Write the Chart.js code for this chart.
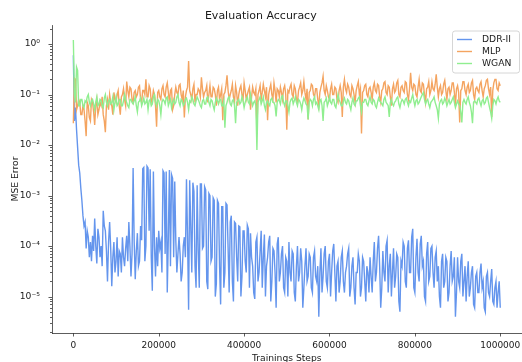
<!DOCTYPE html>
<html>
<head>
<meta charset="utf-8">
<script src="https://cdn.jsdelivr.net/npm/chart.js@4.4.0/dist/chart.umd.min.js"></script>
<style>
html,body{margin:0;padding:0;background:#fff;}
canvas{display:block;}
</style>
</head>
<body>
<canvas id="c" width="522" height="362"></canvas>
<script>
// ---------------- data ----------------
const STEP_SIZE = 2500; // training steps between evaluations
const seriesNames = ['DDR-II', 'MLP', 'WGAN'];

const ddr2 = [
  0.6, 0.03, 0.055, 0.02, 0.009, 0.004, 0.0028, 0.0014, 8e-4, 4e-4, 2.5e-4, 3e-4, 9e-5, 2e-4, 1.5e-4, 6e-5, 1.2e-4, 5e-5, 1.6e-4, 8e-5,
  3.5e-4, 1e-4, 4.5e-5, 2.2e-4, 1.5e-4, 6e-5, 1e-4, 4e-5, 5e-4, 2.5e-4, 2e-4, 8e-5, 2e-5, 1.2e-4, 3e-4, 9e-5, 1.6e-5, 6e-5, 1.2e-4, 3e-5,
  5e-5, 1.5e-4, 2.5e-5, 8e-5, 7e-5, 3e-5, 1.5e-4, 6e-5, 4e-5, 9e-5, 1.6e-4, 5e-5, 3e-4, 1e-4, 2.5e-5, 7e-5, 3.5e-3, 1.2e-4, 2.2e-5, 8e-5,
  1.8e-4, 4e-5, 5e-5, 2.5e-4, 1.3e-4, 3.4e-3, 3.6e-3, 5e-5, 1e-4, 3.8e-3, 3.5e-3, 2e-4, 3.3e-3, 6e-5, 1.3e-5, 3e-3, 1e-4, 2.5e-5, 1.5e-4, 4e-5,
  2e-4, 9e-5, 1.2e-4, 3e-5, 3.1e-3, 2.8e-3, 7e-5, 3e-3, 1.2e-5, 1.5e-4, 3.2e-3, 4e-5, 2.6e-3, 2.2e-3, 6e-5, 1.9e-3, 1.3e-4, 3e-5, 7e-5, 1.5e-4,
  7e-5, 2e-5, 3e-5, 1e-4, 1.5e-4, 6e-5, 2.1e-3, 1.5e-4, 5.5e-6, 2e-3, 2.5e-4, 3e-5, 1.8e-3, 1.2e-3, 4e-5, 1.5e-5, 1.6e-3, 8e-5, 1.5e-5, 1.7e-3,
  1.7e-3, 9e-5, 1e-4, 1.5e-3, 1.3e-3, 2e-5, 1.4e-5, 1.1e-3, 1e-3, 5e-5, 6e-5, 9e-4, 8e-4, 1e-5, 1.8e-5, 8e-4, 7e-4, 4e-5, 7e-6, 6e-4,
  6e-4, 1.5e-5, 3e-5, 7e-4, 6.5e-4, 9e-5, 1.2e-5, 3e-4, 4e-4, 2e-5, 8e-6, 3e-4, 2.8e-4, 6e-5, 2e-5, 2.5e-4, 2.4e-4, 1e-5, 2.5e-5, 2e-4,
  2e-4, 5e-5, 3e-5, 2.6e-4, 2.2e-4, 1.5e-5, 1.8e-4, 6e-5, 4e-5, 1.2e-5, 9e-6, 1.2e-4, 1.5e-4, 2e-5, 3e-5, 8e-5, 2e-4, 1.5e-5, 6e-5, 1.7e-4,
  1e-5, 4e-5, 6e-5, 1.2e-4, 1.6e-4, 8e-6, 2e-5, 9e-5, 8e-5, 3e-5, 6e-6, 1.1e-4, 1.5e-4, 2e-5, 3e-5, 7e-5, 1e-4, 1.5e-5, 1.2e-5, 6e-5,
  5e-5, 1e-5, 1.2e-4, 3e-5, 2e-5, 8e-5, 7e-5, 1.2e-5, 8e-6, 4e-5, 1e-4, 2e-5, 3e-5, 9e-5, 5e-5, 6e-6, 1.5e-5, 4e-5, 9e-5, 2e-5,
  2.5e-5, 7e-5, 6e-5, 1.5e-5, 1.2e-5, 6e-5, 8e-5, 2.5e-5, 2e-5, 4e-5, 4e-6, 3e-5, 9e-5, 1.2e-5, 2.5e-5, 7e-5, 1e-4, 2e-5, 1.5e-5, 5e-5,
  7e-5, 1e-5, 3e-5, 8e-5, 1.1e-4, 3e-5, 8e-6, 4e-5, 5e-5, 1.2e-5, 2e-5, 6e-5, 8e-5, 2e-5, 1.2e-5, 3e-5, 4e-5, 7e-5, 9e-5, 1e-5,
  1.5e-5, 4e-5, 6e-5, 1.5e-5, 7e-6, 3e-5, 3e-5, 7e-5, 5e-5, 1e-5, 1.5e-5, 6e-5, 5e-5, 2e-5, 8e-6, 4e-5, 3e-5, 1.2e-5, 6e-5, 2.5e-5,
  1.2e-5, 5e-5, 1.2e-4, 2e-5, 3e-5, 9e-5, 1.6e-4, 4e-5, 6e-6, 1.5e-5, 8e-5, 3e-5, 2e-5, 1e-4, 1.3e-4, 1.2e-5, 4e-5, 7e-5, 1e-5, 3e-5,
  9e-5, 1.5e-5, 2.5e-5, 7e-5, 6e-5, 8e-6, 5e-6, 5e-5, 4e-5, 1.2e-4, 1e-4, 2e-5, 1.5e-5, 9e-5, 1.3e-4, 3e-5, 3e-5, 1.5e-4, 2.2e-4, 1.5e-5,
  1.2e-5, 6e-5, 1.4e-4, 3e-5, 2e-5, 1.1e-4, 1.6e-4, 4e-5, 5e-5, 1e-5, 8e-6, 7e-5, 1.2e-4, 2e-5, 2.5e-5, 9e-5, 1e-4, 3e-5, 1.5e-5, 6e-5,
  8e-5, 2e-5, 4e-5, 1e-5, 6e-6, 5e-5, 7e-5, 1.5e-5, 2e-5, 6e-5, 5e-5, 8e-6, 1.2e-5, 4e-5, 8e-5, 2e-5, 2.5e-5, 6e-5, 4e-6, 1.2e-5,
  6e-5, 2e-5, 1.5e-5, 5e-5, 7e-5, 1e-5, 2e-5, 4e-5, 8e-6, 2.5e-5, 5e-5, 1e-5, 1.5e-5, 3e-5, 4e-5, 7e-6, 6e-6, 2.5e-5, 3e-5, 1.2e-5,
  1.2e-5, 3e-5, 4.5e-5, 1.5e-5, 2e-5, 6e-6, 5e-6, 2.5e-5, 3e-5, 1.2e-5, 1e-5, 2e-5, 3.5e-5, 8e-6, 7e-6, 1.5e-5, 2e-5, 6e-6, 1.2e-5, 2e-5,
  6e-6
];

const mlp = [
  0.027, 0.21, 0.2, 0.05, 0.06, 0.08, 0.07, 0.04, 0.04, 0.06, 0.05, 0.03, 0.015, 0.07, 0.06, 0.035, 0.03, 0.08, 0.07, 0.045,
  0.025, 0.06, 0.08, 0.04, 0.05, 0.07, 0.06, 0.09, 0.04, 0.03, 0.018, 0.06, 0.08, 0.05, 0.1, 0.07, 0.06, 0.04, 0.11, 0.08,
  0.07, 0.1, 0.12, 0.06, 0.04, 0.09, 0.1, 0.13, 0.08, 0.06, 0.18, 0.12, 0.09, 0.14, 0.13, 0.08, 0.07, 0.11, 0.12, 0.09,
  0.1, 0.14, 0.15, 0.08, 0.07, 0.12, 0.12, 0.1, 0.2, 0.09, 0.09, 0.15, 0.13, 0.07, 0.08, 0.12, 0.1, 0.06, 0.023, 0.11,
  0.12, 0.09, 0.08, 0.13, 0.15, 0.1, 0.09, 0.14, 0.17, 0.11, 0.07, 0.12, 0.13, 0.05, 0.06, 0.1, 0.14, 0.11, 0.1, 0.15,
  0.16, 0.1, 0.08, 0.12, 0.035, 0.09, 0.12, 0.14, 0.46, 0.12, 0.1, 0.08, 0.13, 0.16, 0.07, 0.1, 0.1, 0.13, 0.12, 0.09,
  0.22, 0.13, 0.09, 0.11, 0.12, 0.15, 0.07, 0.1, 0.15, 0.09, 0.09, 0.14, 0.13, 0.1, 0.06, 0.12, 0.14, 0.08, 0.1, 0.13,
  0.031, 0.1, 0.11, 0.15, 0.24, 0.12, 0.08, 0.1, 0.12, 0.16, 0.09, 0.07, 0.15, 0.11, 0.06, 0.1, 0.13, 0.15, 0.1, 0.08,
  0.17, 0.12, 0.08, 0.1, 0.12, 0.14, 0.05, 0.09, 0.14, 0.11, 0.1, 0.13, 0.021, 0.1, 0.12, 0.15, 0.08, 0.11, 0.16, 0.12,
  0.09, 0.14, 0.031, 0.1, 0.13, 0.16, 0.1, 0.08, 0.17, 0.12, 0.07, 0.13, 0.12, 0.09, 0.14, 0.11, 0.08, 0.13, 0.15, 0.1,
  0.02, 0.12, 0.11, 0.14, 0.16, 0.1, 0.09, 0.15, 0.13, 0.08, 0.07, 0.12, 0.14, 0.17, 0.1, 0.12, 0.18, 0.11, 0.08, 0.13,
  0.032, 0.11, 0.12, 0.16, 0.15, 0.1, 0.09, 0.13, 0.13, 0.08, 0.06, 0.11, 0.14, 0.17, 0.23, 0.12, 0.1, 0.15, 0.12, 0.09,
  0.08, 0.13, 0.16, 0.1, 0.1, 0.14, 0.13, 0.08, 0.07, 0.12, 0.15, 0.11, 0.036, 0.14, 0.2, 0.13, 0.11, 0.16, 0.14, 0.1,
  0.09, 0.15, 0.13, 0.1, 0.07, 0.12, 0.15, 0.18, 0.1, 0.13, 0.017, 0.11, 0.12, 0.15, 0.16, 0.1, 0.09, 0.13, 0.14, 0.11,
  0.08, 0.14, 0.17, 0.12, 0.11, 0.16, 0.15, 0.09, 0.07, 0.12, 0.13, 0.17, 0.18, 0.11, 0.1, 0.15, 0.14, 0.09, 0.06, 0.13,
  0.16, 0.11, 0.12, 0.17, 0.19, 0.1, 0.09, 0.14, 0.15, 0.12, 0.11, 0.18, 0.17, 0.1, 0.08, 0.13, 0.27, 0.14, 0.12, 0.16,
  0.15, 0.1, 0.09, 0.14, 0.2, 0.12, 0.11, 0.17, 0.16, 0.1, 0.07, 0.13, 0.14, 0.18, 0.1, 0.12, 0.18, 0.13, 0.12, 0.16,
  0.25, 0.14, 0.09, 0.13, 0.15, 0.1, 0.11, 0.16, 0.19, 0.12, 0.08, 0.13, 0.14, 0.1, 0.12, 0.17, 0.17, 0.11, 0.06, 0.13,
  0.15, 0.11, 0.028, 0.12, 0.13, 0.18, 0.18, 0.12, 0.1, 0.14, 0.16, 0.11, 0.12, 0.17, 0.19, 0.1, 0.08, 0.13, 0.14, 0.12,
  0.11, 0.16, 0.18, 0.12, 0.09, 0.13, 0.15, 0.19, 0.2, 0.13, 0.1, 0.14, 0.036, 0.12, 0.17, 0.2, 0.2, 0.13, 0.12, 0.17,
  0.15
];

const wgan = [
  1.2, 0.1, 0.07, 0.35, 0.3, 0.06, 0.06, 0.08, 0.08, 0.06, 0.055, 0.075, 0.07, 0.09, 0.1, 0.07, 0.06, 0.075, 0.08, 0.065,
  0.05, 0.07, 0.09, 0.06, 0.065, 0.08, 0.075, 0.06, 0.055, 0.085, 0.1, 0.07, 0.06, 0.075, 0.08, 0.065, 0.07, 0.09, 0.05, 0.07,
  0.09, 0.06, 0.065, 0.08, 0.08, 0.06, 0.06, 0.075, 0.1, 0.08, 0.07, 0.06, 0.055, 0.08, 0.08, 0.07, 0.065, 0.075, 0.09, 0.06,
  0.045, 0.07, 0.075, 0.085, 0.06, 0.07, 0.085, 0.065, 0.07, 0.08, 0.05, 0.075, 0.08, 0.06, 0.065, 0.09, 0.1, 0.07, 0.06, 0.08,
  0.075, 0.06, 0.04, 0.07, 0.08, 0.075, 0.065, 0.085, 0.09, 0.06, 0.07, 0.08, 0.055, 0.07, 0.08, 0.065, 0.07, 0.09, 0.1, 0.07,
  0.06, 0.08, 0.075, 0.06, 0.065, 0.08, 0.085, 0.07, 0.05, 0.075, 0.07, 0.09, 0.08, 0.065, 0.06, 0.075, 0.09, 0.08, 0.07, 0.06,
  0.055, 0.075, 0.08, 0.065, 0.065, 0.085, 0.09, 0.07, 0.06, 0.08, 0.075, 0.06, 0.05, 0.07, 0.085, 0.075, 0.065, 0.08, 0.08, 0.06,
  0.06, 0.075, 0.022, 0.06, 0.07, 0.085, 0.09, 0.065, 0.06, 0.075, 0.08, 0.06, 0.027, 0.07, 0.075, 0.08, 0.065, 0.07, 0.09, 0.075,
  0.055, 0.07, 0.08, 0.09, 0.07, 0.065, 0.1, 0.075, 0.06, 0.07, 0.075, 0.06, 0.008, 0.07, 0.08, 0.09, 0.065, 0.075, 0.09, 0.06,
  0.05, 0.07, 0.075, 0.065, 0.06, 0.08, 0.085, 0.07, 0.07, 0.06, 0.037, 0.07, 0.08, 0.075, 0.065, 0.09, 0.095, 0.07, 0.06, 0.075,
  0.075, 0.06, 0.045, 0.07, 0.08, 0.085, 0.065, 0.075, 0.09, 0.07, 0.06, 0.08, 0.075, 0.065, 0.05, 0.07, 0.085, 0.075, 0.065, 0.06,
  0.032, 0.07, 0.08, 0.075, 0.06, 0.08, 0.09, 0.065, 0.07, 0.06, 0.05, 0.075, 0.08, 0.06, 0.03, 0.07, 0.075, 0.085, 0.06, 0.07,
  0.09, 0.07, 0.065, 0.08, 0.08, 0.06, 0.055, 0.075, 0.1, 0.08, 0.07, 0.06, 0.06, 0.075, 0.085, 0.07, 0.065, 0.08, 0.075, 0.06,
  0.05, 0.07, 0.085, 0.065, 0.06, 0.075, 0.075, 0.085, 0.09, 0.06, 0.045, 0.07, 0.07, 0.08, 0.08, 0.065, 0.06, 0.075, 0.09, 0.07,
  0.065, 0.08, 0.075, 0.06, 0.055, 0.07, 0.085, 0.075, 0.07, 0.065, 0.06, 0.08, 0.09, 0.07, 0.065, 0.06, 0.036, 0.07, 0.08, 0.065,
  0.06, 0.07, 0.075, 0.085, 0.09, 0.065, 0.055, 0.07, 0.08, 0.075, 0.065, 0.08, 0.085, 0.07, 0.06, 0.075, 0.07, 0.085, 0.1, 0.075,
  0.06, 0.075, 0.08, 0.065, 0.07, 0.08, 0.09, 0.1, 0.11, 0.08, 0.065, 0.075, 0.08, 0.065, 0.055, 0.07, 0.075, 0.08, 0.09, 0.07,
  0.06, 0.05, 0.034, 0.065, 0.075, 0.08, 0.065, 0.07, 0.085, 0.075, 0.06, 0.07, 0.08, 0.065, 0.07, 0.08, 0.09, 0.07, 0.055, 0.065,
  0.075, 0.065, 0.06, 0.045, 0.028, 0.07, 0.08, 0.07, 0.065, 0.08, 0.09, 0.07, 0.06, 0.045, 0.027, 0.07, 0.075, 0.07, 0.065, 0.08,
  0.085, 0.07, 0.06, 0.075, 0.08, 0.065, 0.07, 0.085, 0.09, 0.07, 0.055, 0.045, 0.034, 0.06, 0.08, 0.075, 0.065, 0.08, 0.09, 0.075,
  0.07
];

const xTickValues = [0, 200000, 400000, 600000, 800000, 1000000];
const xTickLabels = ['0', '200000', '400000', '600000', '800000', '1000000'];
const yTickValues = [1e-5, 1e-4, 1e-3, 1e-2, 1e-1, 1];
const yTickLabels = ['10⁻⁵', '10⁻⁴', '10⁻³', '10⁻²', '10⁻¹', '10⁰'];

// ---------------- presentation ----------------
const X_MIN = -50000, X_MAX = 1050000;
const Y_MIN = 1.9e-6, Y_MAX = 2.38;
const FONT = "'DejaVu Sans', sans-serif";
const TXT = '#1a1a1a';
const AX = '#333333';
const COLORS = ['#6495ED', '#F4A460', '#90EE90'];

function toPoints(arr) { return arr.map((v, i) => ({ x: i * STEP_SIZE, y: v })); }

const yAllTicks = [];
for (let e = -6; e <= 0; e++) {
  for (let m = 1; m <= 9; m++) {
    const v = m * Math.pow(10, e);
    if (v >= Y_MIN && v <= Y_MAX) yAllTicks.push(v);
  }
}
function isMajor(v) { return yTickValues.some(t => Math.abs(t - v) / t < 1e-9); }
function zeroPad(s) { s.paddingLeft = 0; s.paddingRight = 0; s.paddingTop = 0; s.paddingBottom = 0; }

const mplPlugin = {
  id: 'mplDecor',
  afterDraw(chart) {
    const ctx = chart.ctx, a = chart.chartArea;
    const xs = chart.scales.x, ys = chart.scales.y;
    ctx.save();
    ctx.strokeStyle = AX;
    ctx.lineWidth = 0.8;
    yAllTicks.forEach(v => {
      const len = isMajor(v) ? 3.5 : 2;
      const py = Math.round(ys.getPixelForValue(v)) + 0.5;
      ctx.beginPath(); ctx.moveTo(a.left - len, py); ctx.lineTo(a.left, py); ctx.stroke();
    });
    xTickValues.forEach(v => {
      const px = Math.round(xs.getPixelForValue(v)) + 0.5;
      ctx.beginPath(); ctx.moveTo(px, a.bottom); ctx.lineTo(px, a.bottom + 3.5); ctx.stroke();
    });
    // legend box (upper right)
    const bx = 452.5, by = 31, bw = 67, bh = 42;
    ctx.beginPath();
    ctx.roundRect(bx, by, bw, bh, 2.5);
    ctx.fillStyle = 'rgba(255,255,255,0.8)';
    ctx.fill();
    ctx.strokeStyle = '#cccccc';
    ctx.lineWidth = 0.8;
    ctx.stroke();
    ctx.font = '9.2px ' + FONT;
    ctx.textBaseline = 'middle';
    ctx.textAlign = 'left';
    chart.data.datasets.forEach((ds, i) => {
      const ly = 39.5 + i * 12;
      ctx.strokeStyle = ds.borderColor;
      ctx.lineWidth = 1.4;
      ctx.beginPath(); ctx.moveTo(457, ly); ctx.lineTo(472, ly); ctx.stroke();
      ctx.fillStyle = TXT;
      ctx.fillText(ds.label, 482, ly);
    });
    ctx.restore();
  }
};

const datasets = [ddr2, mlp, wgan].map((arr, i) => ({
  label: seriesNames[i],
  data: toPoints(arr),
  borderColor: COLORS[i],
  backgroundColor: COLORS[i],
  borderWidth: 1.4,
  pointRadius: 0,
  tension: 0,
  fill: false,
  order: 3 - i
}));

new Chart(document.getElementById('c'), {
  type: 'line',
  data: { datasets },
  plugins: [mplPlugin],
  options: {
    responsive: false,
    animation: false,
    devicePixelRatio: 1,
    parsing: false,
    layout: { padding: { left: 0, right: 0.4, top: 0, bottom: 0 } },
    plugins: {
      legend: { display: false },
      tooltip: { enabled: false },
      title: {
        display: true, text: 'Evaluation Accuracy', color: TXT,
        font: { family: FONT, size: 11, weight: 'normal' },
        padding: { top: 9.4, bottom: 2.4 }
      }
    },
    scales: {
      x: {
        type: 'linear', min: X_MIN, max: X_MAX,
        grid: { display: false, drawTicks: false },
        border: { display: true, color: AX, width: 0.8 },
        afterBuildTicks: s => { s.ticks = xTickValues.map(v => ({ value: v })); },
        ticks: {
          autoSkip: false, maxRotation: 0, padding: 7.5, color: TXT,
          font: { family: FONT, size: 9 },
          callback: (v) => { const k = xTickValues.indexOf(v); return k >= 0 ? xTickLabels[k] : ''; }
        },
        title: {
          display: true, text: 'Trainings Steps', color: TXT,
          font: { family: FONT, size: 9.2 }, padding: { top: 0, bottom: -2 }
        },
        afterFit: s => { s.height = 29; zeroPad(s); }
      },
      y: {
        type: 'logarithmic', min: Y_MIN, max: Y_MAX,
        grid: { display: false, drawTicks: false },
        border: { display: true, color: AX, width: 0.8 },
        afterBuildTicks: s => { s.ticks = yAllTicks.map(v => ({ value: v })); },
        ticks: {
          autoSkip: false, padding: 12, color: TXT,
          font: { family: FONT, size: 9.2 },
          callback: (v) => { const k = yTickValues.findIndex(t => Math.abs(t - v) / t < 1e-9); return k >= 0 ? yTickLabels[k] : ''; }
        },
        title: {
          display: true, text: 'MSE Error', color: TXT,
          font: { family: FONT, size: 9.2 }, padding: { top: 10.5, bottom: 0 }
        },
        afterFit: s => { s.width = 52; zeroPad(s); }
      }
    }
  }
});
</script>
</body>
</html>
